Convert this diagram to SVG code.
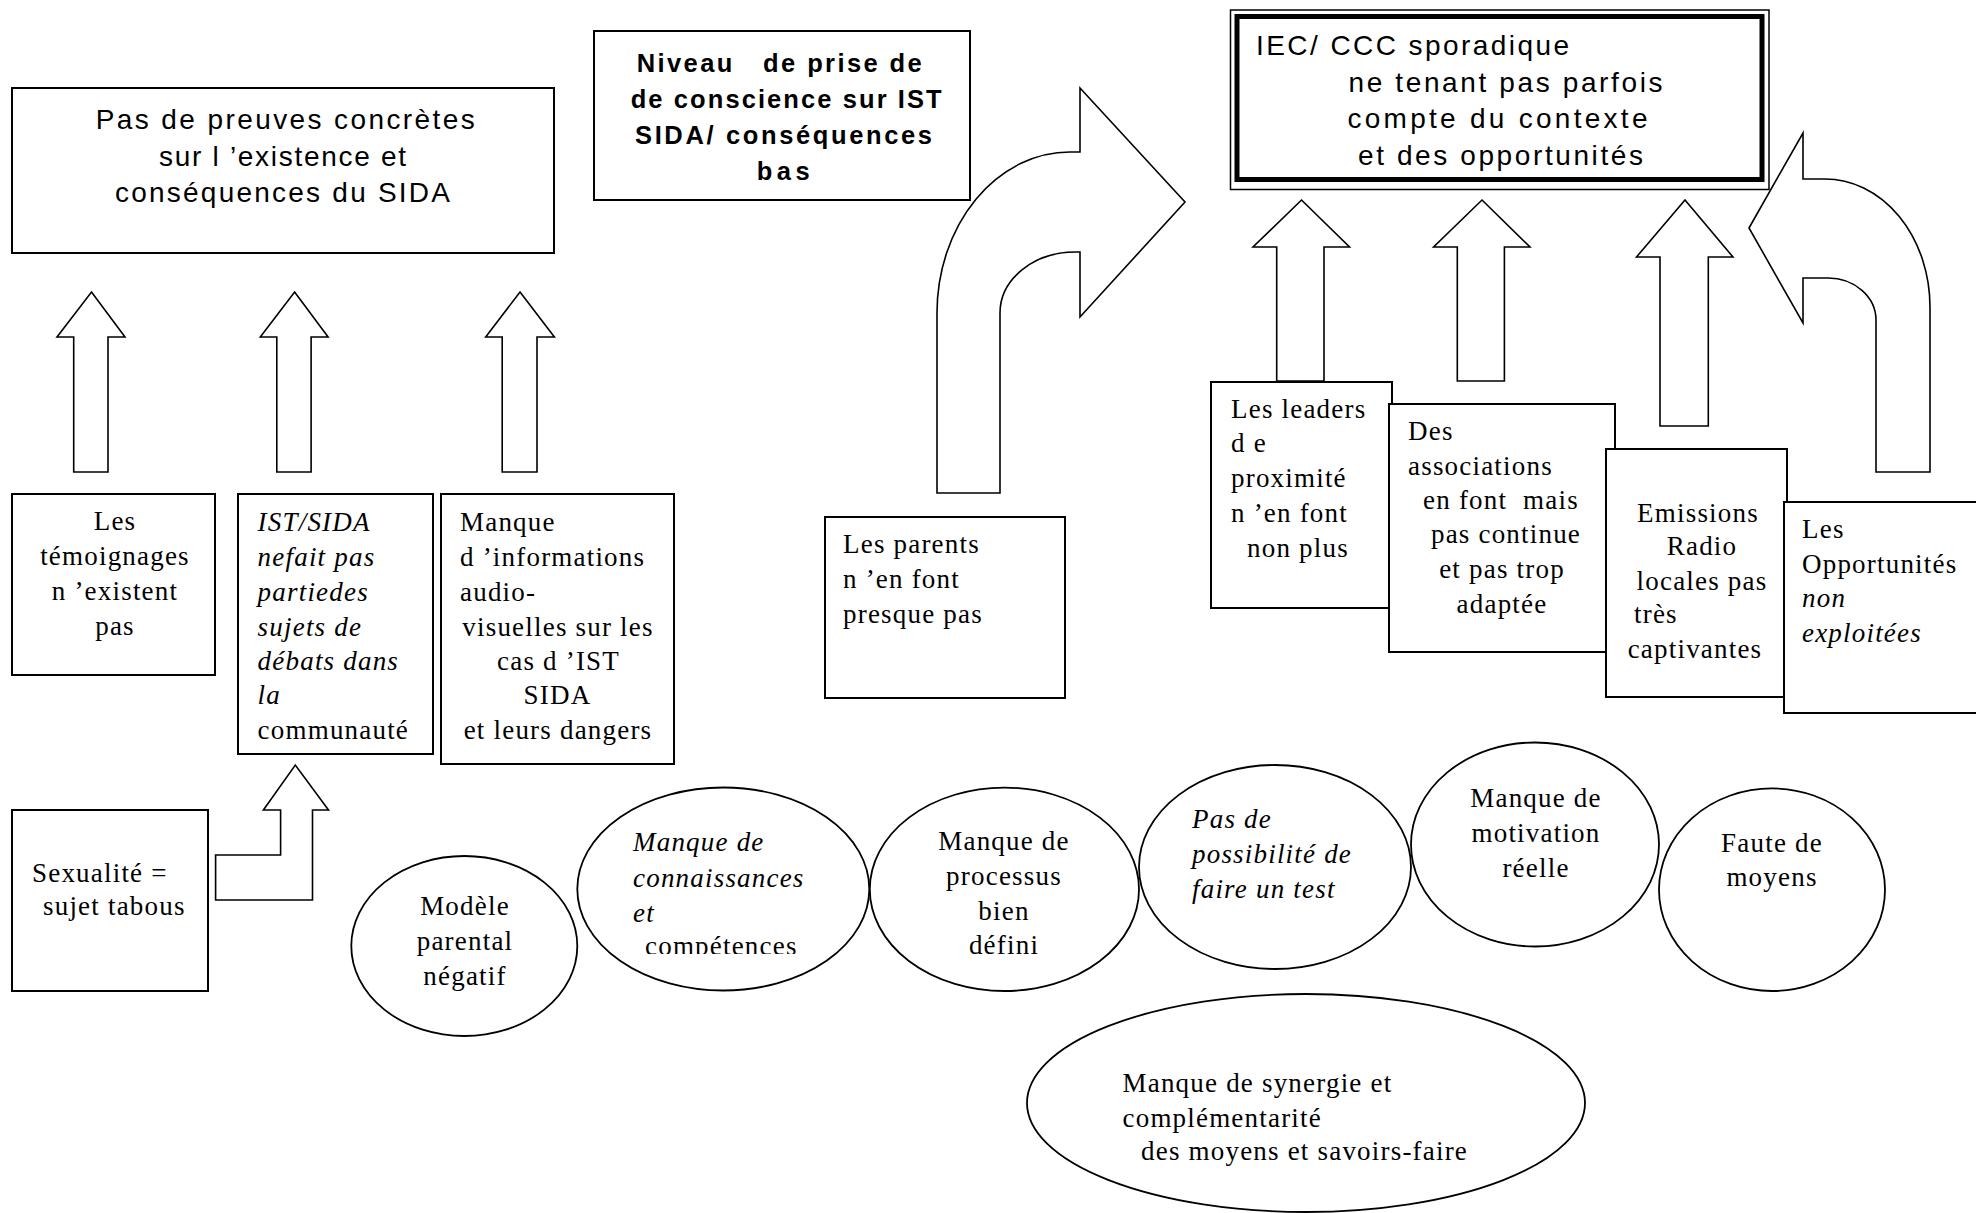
<svg xmlns="http://www.w3.org/2000/svg" width="1976" height="1213" viewBox="0 0 1976 1213">
  <style>
    .box { fill:#fff; stroke:#000; stroke-width:2; }
    .arrow { fill:#fff; stroke:#000; stroke-width:1.6; stroke-linejoin:miter; }
    .oval { fill:#fff; stroke:#000; stroke-width:1.8; }
    .serif { font-family:"Liberation Serif","Times New Roman",serif; font-size:27px; letter-spacing:1.2px; fill:#000; }
    .it { font-style:italic; }
    .sans { font-family:"Liberation Sans",Arial,sans-serif; font-size:28px; fill:#000; white-space:pre; }
    .bold { font-weight:bold; font-size:25.5px; }
    .mid { text-anchor:middle; }
    .pre { white-space:pre; }
  </style>
  <defs>
    <clipPath id="cutLine">
      <rect x="0" y="0" width="1976" height="954"/>
    </clipPath>
  </defs>
  <rect x="0" y="0" width="1976" height="1213" fill="#fff"/>

  <!-- block arrows -->
  <g id="connectors">
    <polygon class="arrow" points="91.5,292 125,337 108,337 108,472 73.7,472 73.7,337 57,337"/>
    <polygon class="arrow" points="294.6,292 328.1,337 311.1,337 311.1,472 276.8,472 276.8,337 260.3,337"/>
    <polygon class="arrow" points="520,292 554.4,337 537,337 537,472 502.2,472 502.2,337 485.7,337"/>
    <polygon class="arrow" points="215.6,855 280.6,855 280.6,810 263.4,810 295.3,765 328.5,810 312.5,810 312.5,900 215.6,900"/>
    <path class="arrow" d="M 937 493 L 937 313 A 133 161 0 0 1 1070 152 L 1080 152 L 1080 88 L 1185 202 L 1080 317 L 1080 252 L 1075 252 A 75 61 0 0 0 1000 313 L 1000 493 Z"/>
    <polygon class="arrow" points="1301.5,200 1349.5,247 1324,247 1324,381 1276.7,381 1276.7,247 1253,247"/>
    <polygon class="arrow" points="1482,200 1530,247 1504.4,247 1504.4,381 1457.3,381 1457.3,247 1433.6,247"/>
    <polygon class="arrow" points="1685,200 1733,257 1708.3,257 1708.3,426 1660,426 1660,257 1636.5,257"/>
    <path class="arrow" d="M 1749 228 L 1803 133 L 1803 179 L 1825 179 A 105 128 0 0 1 1930 307 L 1930 472 L 1876 472 L 1876 320 A 48 42 0 0 0 1828 278 L 1803 278 L 1803 323 Z"/>
  </g>

  <!-- top boxes -->
  <g id="preuves">
    <rect class="box" x="12" y="88" width="542" height="165"/>
    <text class="sans" x="95.7" y="129" textLength="379" lengthAdjust="spacing">Pas de preuves concrètes</text>
    <text class="sans" x="159" y="166" textLength="247" lengthAdjust="spacing">sur l ’existence et</text>
    <text class="sans" x="115" y="202" textLength="335" lengthAdjust="spacing">conséquences du SIDA</text>
  </g>

  <g id="niveau">
    <rect class="box" x="594" y="31" width="376" height="169"/>
    <text class="sans bold" x="636.7" y="72" textLength="285" lengthAdjust="spacing">Niveau   de prise de</text>
    <text class="sans bold" x="630.7" y="108" textLength="311" lengthAdjust="spacing">de conscience sur IST</text>
    <text class="sans bold" x="635" y="144" textLength="297" lengthAdjust="spacing">SIDA/ conséquences</text>
    <text class="sans bold" x="756.7" y="180" textLength="53" lengthAdjust="spacing">bas</text>
  </g>

  <g id="iec">
    <rect x="1230.5" y="10" width="538.5" height="179.5" fill="#fff" stroke="#000" stroke-width="1.5"/>
    <rect x="1237" y="16.5" width="525" height="163" fill="none" stroke="#000" stroke-width="5"/>
    <text class="sans" font-size="29" x="1256" y="55" textLength="313" lengthAdjust="spacing">IEC/ CCC sporadique</text>
    <text class="sans" font-size="29" x="1348.5" y="92" textLength="314" lengthAdjust="spacing">ne tenant pas parfois</text>
    <text class="sans" font-size="29" x="1347.5" y="128" textLength="300" lengthAdjust="spacing">compte du contexte</text>
    <text class="sans" font-size="29" x="1358" y="165" textLength="285" lengthAdjust="spacing">et des opportunités</text>
  </g>

  <!-- left cause boxes -->
  <g id="temoignages" class="serif">
    <rect class="box" x="12" y="494" width="203" height="181"/>
    <text class="mid" x="115" y="530">Les</text>
    <text class="mid" x="115" y="565">témoignages</text>
    <text class="mid" x="115" y="600">n ’existent</text>
    <text class="mid" x="115" y="635">pas</text>
  </g>

  <g id="debats" class="serif">
    <rect class="box" x="238" y="494" width="195" height="260"/>
    <text class="it" x="257.6" y="531">IST/SIDA</text>
    <text class="it" x="257.6" y="566">nefait pas</text>
    <text class="it" x="257.6" y="601">partiedes</text>
    <text class="it" x="257.6" y="636">sujets de</text>
    <text class="it" x="257.6" y="670">débats dans</text>
    <text class="it" x="257.6" y="704">la</text>
    <text x="257.6" y="739">communauté</text>
  </g>

  <g id="audiovisuel" class="serif">
    <rect class="box" x="441" y="494" width="233" height="270"/>
    <text x="460" y="531">Manque</text>
    <text x="460" y="566">d ’informations</text>
    <text x="460" y="601">audio-</text>
    <text class="mid" x="558" y="636">visuelles sur les</text>
    <text class="mid" x="558.5" y="670">cas d ’IST</text>
    <text class="mid" x="557.5" y="704">SIDA</text>
    <text class="mid" x="558" y="739">et leurs dangers</text>
  </g>

  <g id="sexualite" class="serif">
    <rect class="box" x="12" y="810" width="196" height="181"/>
    <text x="32" y="882">Sexualité =</text>
    <text x="43" y="915">sujet tabous</text>
  </g>

  <!-- right cause boxes -->
  <g id="parents" class="serif">
    <rect class="box" x="825" y="517" width="240" height="181"/>
    <text x="843" y="553">Les parents</text>
    <text x="843" y="588">n ’en font</text>
    <text x="843" y="623">presque pas</text>
  </g>

  <g id="leaders" class="serif">
    <rect class="box" x="1211" y="382" width="181" height="226"/>
    <text x="1231" y="418">Les leaders</text>
    <text x="1231" y="452">d e</text>
    <text x="1231" y="487">proximité</text>
    <text x="1231" y="522">n ’en font</text>
    <text x="1247" y="557">non plus</text>
  </g>

  <g id="associations" class="serif">
    <rect class="box" x="1389" y="404" width="226" height="248"/>
    <text x="1408" y="440">Des</text>
    <text x="1408" y="475">associations</text>
    <text class="mid pre" x="1501" y="509">en font  mais</text>
    <text class="mid" x="1506" y="543">pas continue</text>
    <text class="mid" x="1502" y="578">et pas trop</text>
    <text class="mid" x="1502" y="613">adaptée</text>
  </g>

  <g id="emissions" class="serif">
    <rect class="box" x="1606" y="449" width="181" height="248"/>
    <text class="mid" x="1698" y="522">Emissions</text>
    <text class="mid" x="1702" y="555">Radio</text>
    <text class="mid" x="1702" y="590">locales pas</text>
    <text x="1634" y="623">très</text>
    <text class="mid" x="1695" y="658">captivantes</text>
  </g>

  <g id="opportunites" class="serif">
    <rect class="box" x="1784" y="502" width="210" height="211"/>
    <text x="1802" y="538">Les</text>
    <text x="1802" y="573">Opportunités</text>
    <text class="it" x="1802" y="607">non</text>
    <text class="it" x="1802" y="642">exploitées</text>
  </g>

  <!-- underlying causes -->
  <g id="modele" class="serif">
    <ellipse class="oval" cx="464.3" cy="946" rx="113" ry="90"/>
    <text class="mid" x="465" y="915">Modèle</text>
    <text class="mid" x="465" y="950">parental</text>
    <text class="mid" x="465" y="985">négatif</text>
  </g>

  <g id="connaissances" class="serif">
    <ellipse class="oval" cx="723.3" cy="889" rx="146" ry="101.5"/>
    <text class="it" x="633" y="851">Manque de</text>
    <text class="it" x="633" y="887">connaissances</text>
    <text class="it" x="633" y="922">et</text>
    <text x="645" y="955" clip-path="url(#cutLine)">compétences</text>
  </g>

  <g id="processus" class="serif">
    <ellipse class="oval" cx="1004.4" cy="889.3" rx="134.6" ry="101.7"/>
    <text class="mid" x="1004" y="850">Manque de</text>
    <text class="mid" x="1004" y="885">processus</text>
    <text class="mid" x="1004" y="920">bien</text>
    <text class="mid" x="1004" y="954" clip-path="url(#cutLine)">défini</text>
  </g>

  <g id="test" class="serif">
    <ellipse class="oval" cx="1275" cy="867" rx="136" ry="102"/>
    <text class="it" x="1192" y="828">Pas de</text>
    <text class="it" x="1192" y="863">possibilité de</text>
    <text class="it" x="1192" y="898">faire un test</text>
  </g>

  <g id="motivation" class="serif">
    <ellipse class="oval" cx="1535" cy="844.5" rx="124" ry="102"/>
    <text class="mid" x="1536" y="807">Manque de</text>
    <text class="mid" x="1536" y="842">motivation</text>
    <text class="mid" x="1536" y="877">réelle</text>
  </g>

  <g id="moyens" class="serif">
    <ellipse class="oval" cx="1772" cy="889.7" rx="113" ry="101.3"/>
    <text class="mid" x="1772" y="852">Faute de</text>
    <text class="mid" x="1772" y="886">moyens</text>
  </g>

  <g id="synergie" class="serif">
    <ellipse class="oval" cx="1306" cy="1103" rx="279" ry="109"/>
    <text x="1122.5" y="1092">Manque de synergie et</text>
    <text x="1122.5" y="1127">complémentarité</text>
    <text x="1141" y="1160">des moyens et savoirs-faire</text>
  </g>
</svg>
